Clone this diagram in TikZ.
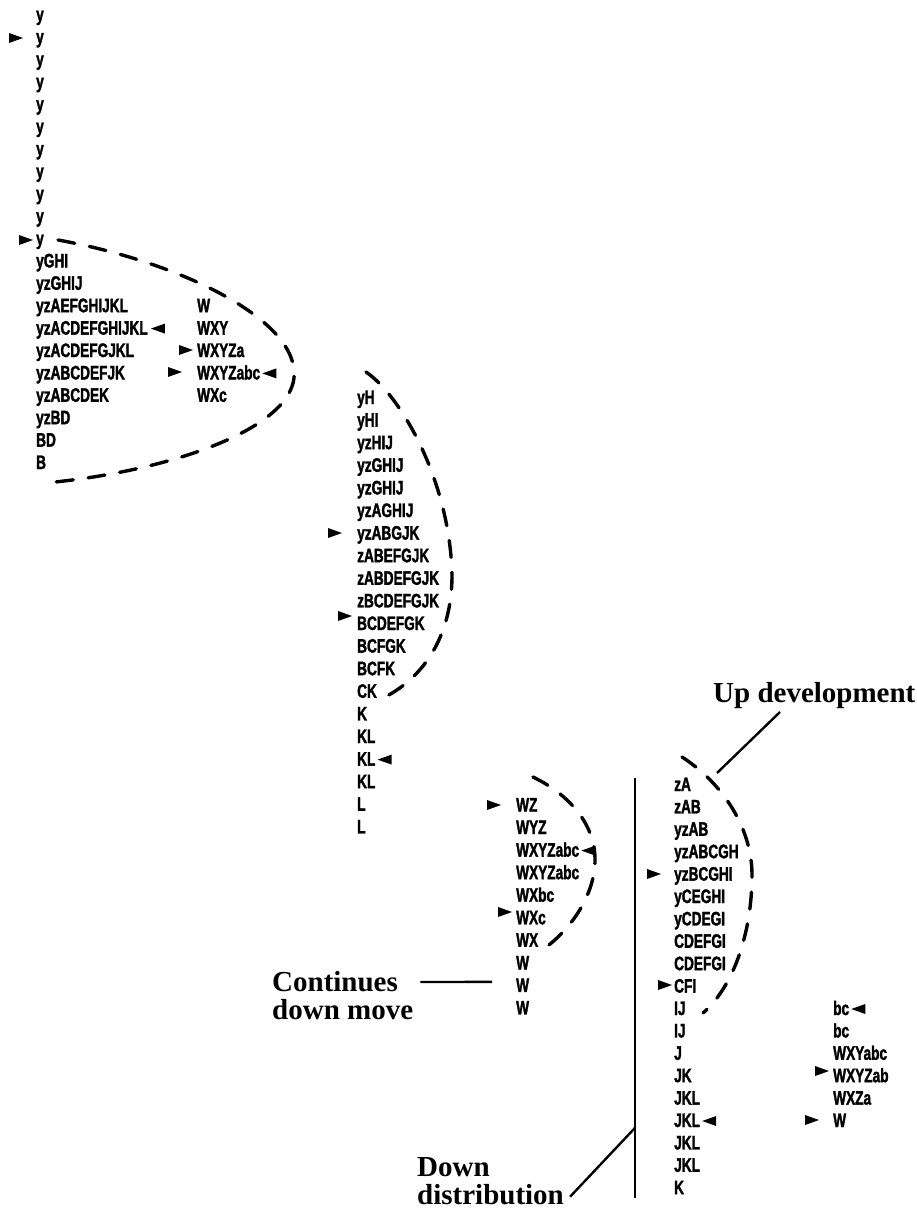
\documentclass[tikz,border=0pt]{standalone}
\usepackage{fontspec}
\newfontfamily\cf{Liberation Sans Bold}[FakeStretch=0.7,FakeBold=1.6]
\newfontfamily\lf{Liberation Serif}
\usetikzlibrary{calc}
\tikzset{
 txt/.style={anchor=base west, inner sep=0pt, font=\cf\fontsize{19.5}{21}\selectfont},
 lab/.style={inner sep=0pt, font=\lf\bfseries\fontsize{29}{28}\selectfont, align=left},
 dasharc/.style={line width=3.4pt, dash pattern=on 17pt off 15pt, line cap=round},
 lead/.style={line width=2.4pt},
 rtri/.pic={\fill (-7,-5) -- (7,0) -- (-7,5) -- cycle;},
 ltri/.pic={\fill (7,-5) -- (-7,0) -- (7,5) -- cycle;}
}
\begin{document}
\begin{tikzpicture}[x=1pt,y=-1pt]
\useasboundingbox (0,0) rectangle (917,1209);
% column 1
\foreach \t [count=\i] in {y,y,y,y,y,y,y,y,y,y,y,yGHI,yzGHIJ,yzAEFGHIJKL,yzACDEFGHIJKL,yzACDEFGJKL,yzABCDEFJK,yzABCDEK,yzBD,BD,B}
  \node[txt] (a\i) at (36,{21+22.4*(\i-1)}) {\t};
\foreach \t [count=\i] in {W,WXY,WXYZa,WXYZabc,WXc}
  \node[txt] (b\i) at (197,{21+22.4*(\i+12)}) {\t};
% column 2
\foreach \t [count=\i] in {yH,yHI,yzHIJ,yzGHIJ,yzGHIJ,yzAGHIJ,yzABGJK,zABEFGJK,zABDEFGJK,zBCDEFGJK,BCDEFGK,BCFGK,BCFK,CK,K,KL,KL,KL,L,L}
  \node[txt] (c\i) at (357,{404+22.6*(\i-1)}) {\t};
% column 3
\foreach \t [count=\i] in {WZ,WYZ,WXYZabc,WXYZabc,WXbc,WXc,WX,W,W,W}
  \node[txt] (d\i) at (516,{811.5+22.55*(\i-1)}) {\t};
% column 4
\foreach \t [count=\i] in {zA,zAB,yzAB,yzABCGH,yzBCGHI,yCEGHI,yCDEGI,CDEFGI,CDEFGI,CFI,IJ,IJ,J,JK,JKL,JKL,JKL,JKL,K}
  \node[txt] (e\i) at (674,{791+22.4*(\i-1)}) {\t};
% column 5
\foreach \t [count=\i] in {bc,bc,WXYabc,WXYZab,WXZa,W}
  \node[txt] (f\i) at (833,{1015+22.4*(\i-1)}) {\t};

% markers
\pic at (16,38) {rtri};
\pic at (26,240) {rtri};
\pic at ($(a15.base east)+(10,-6)$) {ltri};
\pic at (186,350) {rtri};
\pic at (175,372) {rtri};
\pic at ($(b4.base east)+(9,-6)$) {ltri};
\pic at (335,533) {rtri};
\pic at (345,616) {rtri};
\pic at ($(c17.base east)+(9,-6)$) {ltri};
\pic at (494,805) {rtri};
\pic at ($(d3.base east)+(9,-6)$) {ltri};
\pic at (505,912) {rtri};
\pic at (654,874) {rtri};
\pic at (665,985) {rtri};
\pic at ($(e16.base east)+(9,-6)$) {ltri};
\pic at ($(f1.base east)+(9,-6)$) {ltri};
\pic at (822,1071) {rtri};
\pic at (812,1120) {rtri};

% dashed loops
\draw[dasharc] (58,240) .. controls (180,262) and (300,320) .. (294,378)
  .. controls (288,430) and (170,470) .. (55,482);
\draw[dasharc] (366,372) .. controls (400,395) and (450,480) .. (452,575)
  .. controls (452,640) and (420,680) .. (383,698);
\draw[dasharc] (533,777) .. controls (570,795) and (596,825) .. (595,862)
  .. controls (594,895) and (572,928) .. (545,948);
\draw[dasharc] (682,757) .. controls (725,785) and (752,830) .. (752,875)
  .. controls (752,930) and (735,985) .. (703,1013);

% labels and leaders
\node[lab, anchor=base west] (up) at (713,702) {Up development};
\draw[lead] ($(up.base west)+(67,10)$) -- ($(e1.base west)+(43,-18)$);

\node[lab, anchor=north west] (cont) at (272,971) {Continues\\down move};
\draw[lead] ($(cont.north east)+(7,11)$) -- ($(d9.base west)+(-24,-10)$);

\coordinate (vtop) at (635,778);
\coordinate (vbot) at (635,1198);
\draw[lead] (vtop) -- (vbot);
\node[lab, anchor=north west] (down) at (417,1157) {Down\\distribution};
\draw[lead] ($(down.south east)+(6,-8)$) -- ($(vtop)!0.833!(vbot)$);
\end{tikzpicture}
\end{document}
